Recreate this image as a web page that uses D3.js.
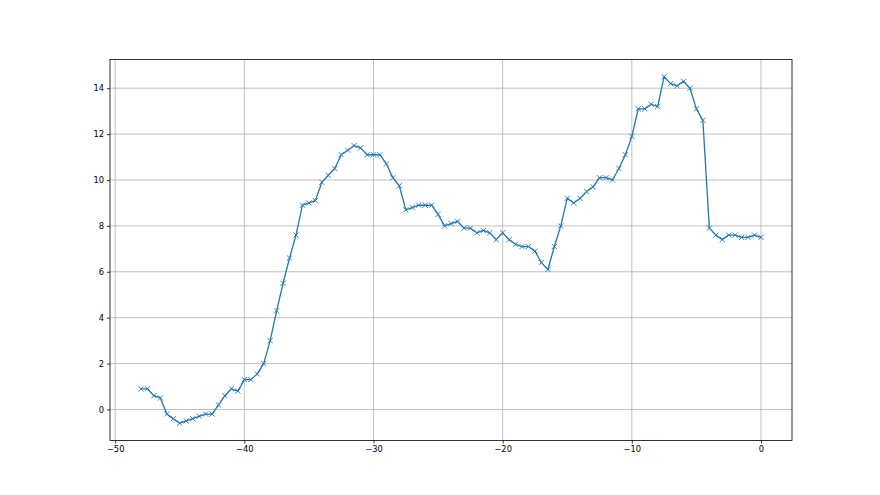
<!DOCTYPE html>
<html>
<head>
<meta charset="utf-8">
<script src="https://cdn.jsdelivr.net/npm/d3@7"></script>
<style>
  html, body { margin: 0; padding: 0; background: #fff; }
  svg { display: block; }
  text { font-family: "DejaVu Sans", sans-serif; }
</style>
</head>
<body>
<svg id="chart" width="880" height="495"></svg>
<script>
const xValues = d3.range(97).map(i => -48 + i * 0.5);
const yValues = [
  0.9, 0.9, 0.6, 0.5, -0.2, -0.4, -0.6, -0.5, -0.4, -0.3,
  -0.2, -0.2, 0.2, 0.6, 0.9, 0.8, 1.3, 1.3, 1.55, 2.0,
  3.0, 4.3, 5.5, 6.6, 7.6, 8.9, 9.0, 9.1, 9.9, 10.2,
  10.5, 11.1, 11.3, 11.5, 11.4, 11.1, 11.1, 11.1, 10.7, 10.1,
  9.75, 8.7, 8.8, 8.9, 8.9, 8.9, 8.5, 8.0, 8.1, 8.2,
  7.9, 7.9, 7.7, 7.8, 7.7, 7.4, 7.7, 7.4, 7.2, 7.1,
  7.1, 6.9, 6.4, 6.1, 7.1, 8.0, 9.2, 9.0, 9.2, 9.5,
  9.7, 10.1, 10.1, 10.0, 10.5, 11.1, 11.9, 13.1, 13.1, 13.3,
  13.2, 14.5, 14.2, 14.1, 14.3, 14.0, 13.1, 12.6, 7.9, 7.6,
  7.4, 7.6, 7.6, 7.5, 7.5, 7.6, 7.5
];
const xTicks = [-50, -40, -30, -20, -10, 0];
const yTicks = [0, 2, 4, 6, 8, 10, 12, 14];

const data = xValues.map((x, i) => ({x: x, y: yValues[i]}));

const W = 880, H = 495;
const mLeft = 0.125 * W, mRight = 0.9 * W, mTop = 0.12 * H, mBottom = 0.89 * H;

function padded(ext) { const r = ext[1] - ext[0]; return [ext[0] - 0.05 * r, ext[1] + 0.05 * r]; }
const x = d3.scaleLinear().domain(padded(d3.extent(xValues))).range([mLeft, mRight]);
const y = d3.scaleLinear().domain(padded(d3.extent(yValues))).range([mBottom, mTop]);

const svg = d3.select("#chart");
const fmt = d => (d < 0 ? "\u2212" + Math.abs(d) : String(d));

// grid
const grid = svg.append("g");
grid.selectAll(".gx").data(xTicks).join("line")
  .attr("x1", d => x(d)).attr("x2", d => x(d)).attr("y1", mTop).attr("y2", mBottom)
  .attr("stroke", "#b0b0b0").attr("stroke-width", 0.8);
grid.selectAll(".gy").data(yTicks).join("line")
  .attr("x1", mLeft).attr("x2", mRight).attr("y1", d => y(d)).attr("y2", d => y(d))
  .attr("stroke", "#b0b0b0").attr("stroke-width", 0.8);

// line
svg.append("path").datum(data)
  .attr("fill", "none").attr("stroke", "#1f77b4").attr("stroke-width", 1.3)
  .attr("stroke-linejoin", "round").attr("stroke-linecap", "square")
  .attr("d", d3.line().x(d => x(d.x)).y(d => y(d.y)));

// markers 'x'
const m = 2.6;
svg.append("g").selectAll("path").data(data).join("path")
  .attr("d", d => {
    const cx = x(d.x), cy = y(d.y);
    return `M${cx - m},${cy - m}L${cx + m},${cy + m}M${cx - m},${cy + m}L${cx + m},${cy - m}`;
  })
  .attr("stroke", "#1f77b4").attr("stroke-width", 0.9).attr("fill", "none");

// axes
const xAxis = svg.append("g").attr("transform", `translate(0,${mBottom})`)
  .call(d3.axisBottom(x).tickValues(xTicks).tickFormat(fmt).tickSize(3).tickPadding(3).tickSizeOuter(0));
const yAxis = svg.append("g").attr("transform", `translate(${mLeft},0)`)
  .call(d3.axisLeft(y).tickValues(yTicks).tickFormat(fmt).tickSize(3).tickPadding(3).tickSizeOuter(0));
[xAxis, yAxis].forEach(a => {
  a.select(".domain").remove();
  a.selectAll(".tick line").attr("stroke", "#000").attr("stroke-width", 0.8);
  a.selectAll(".tick text").attr("fill", "#000").style("font-size", "8.3px").style("font-family", "DejaVu Sans");
});

// spines
svg.append("rect").attr("x", mLeft).attr("y", mTop).attr("width", mRight - mLeft).attr("height", mBottom - mTop)
  .attr("fill", "none").attr("stroke", "#000").attr("stroke-width", 0.8);
</script>
</body>
</html>
